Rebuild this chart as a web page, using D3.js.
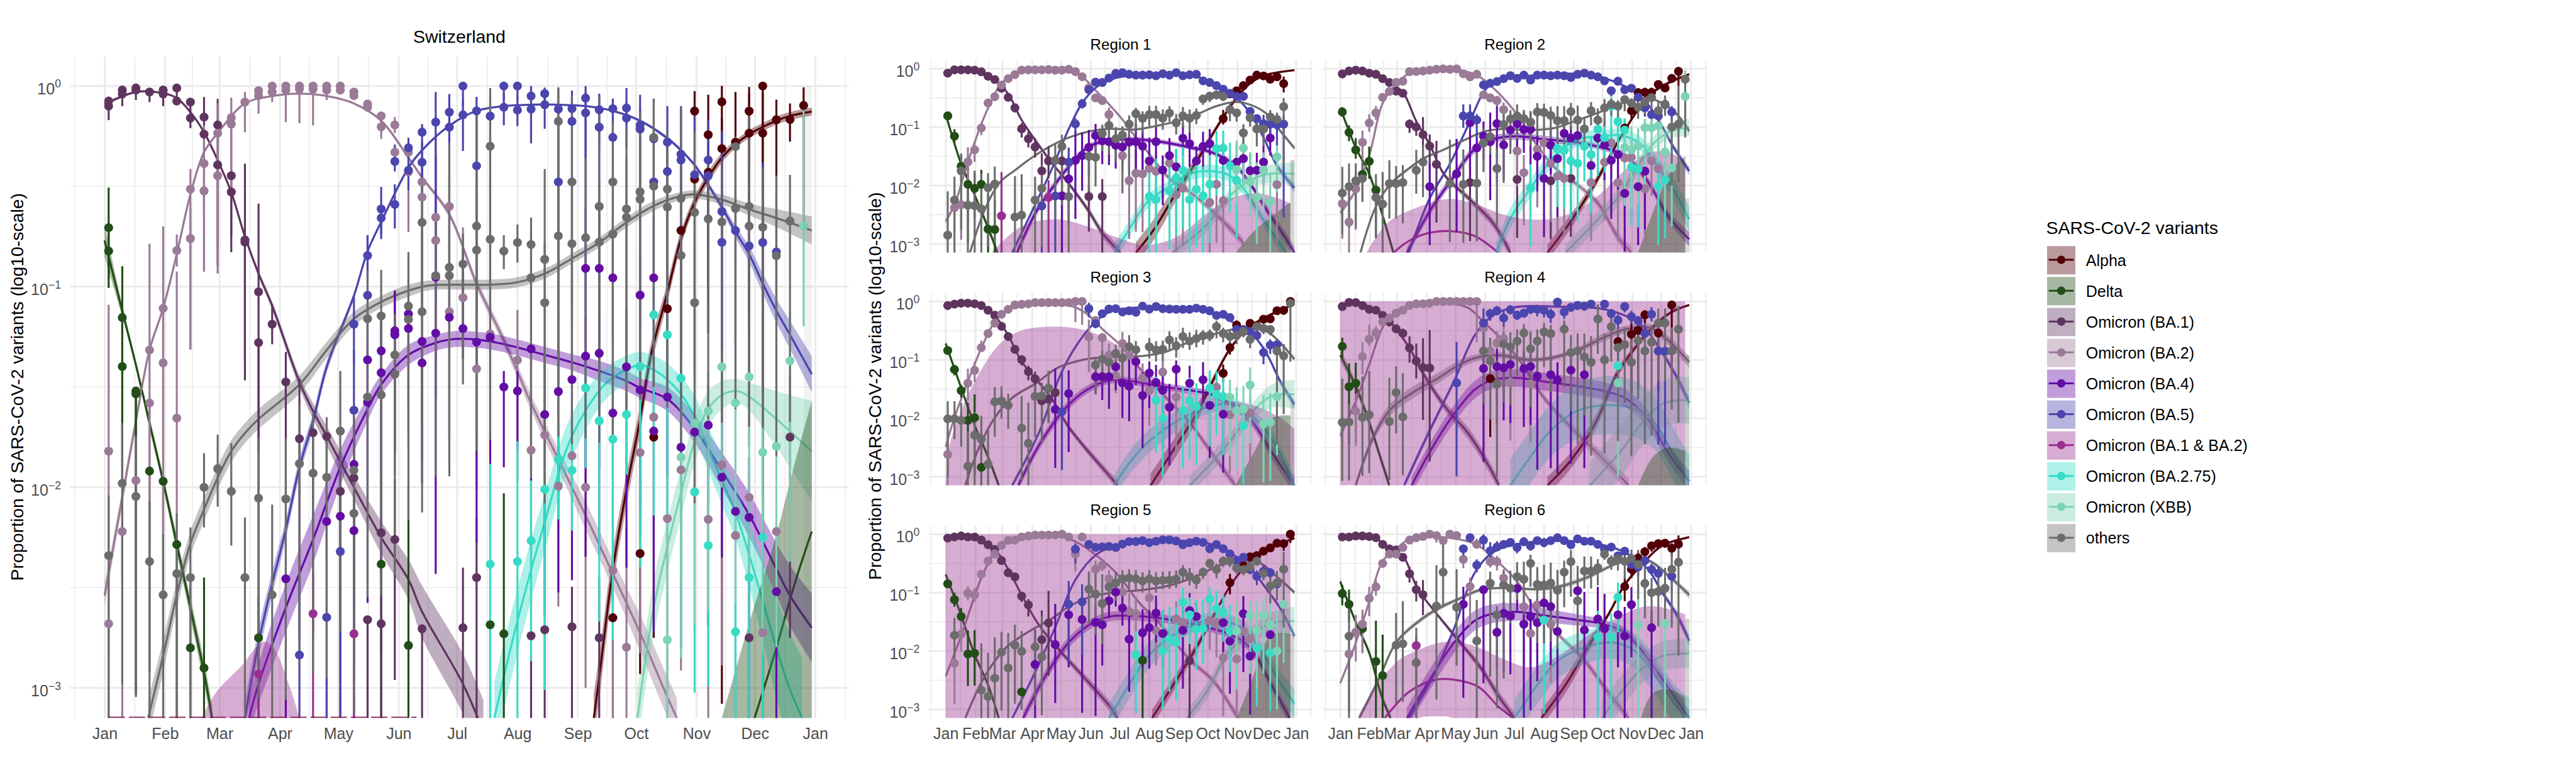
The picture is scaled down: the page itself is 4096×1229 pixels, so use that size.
<!DOCTYPE html>
<html><head><meta charset="utf-8">
<script src="https://cdnjs.cloudflare.com/ajax/libs/d3/7.8.5/d3.min.js"></script>
<style>html,body{margin:0;padding:0;background:#fff}svg{display:block}text{font-family:"Liberation Sans",Arimo,Helvetica,Arial,sans-serif}</style>
</head><body><div id="chart"></div>
<script>
// All proportions are stored as 100*log10(proportion). t / w = weeks after 3 Jan 2022.
const seriesKeys=["alpha","delta","ba1","ba2","ba4","ba5","ba12","ba275","xbb","others"];
const seriesNames=["Alpha","Delta","Omicron (BA.1)","Omicron (BA.2)","Omicron (BA.4)","Omicron (BA.5)","Omicron (BA.1 & BA.2)","Omicron (BA.2.75)","Omicron (XBB)","others"];
const seriesColors=["#510007","#224D17","#5F3560","#9A7A97","#640DA5","#4B45AE","#992F90","#36DCC5","#7CD3B5","#6C6C6C"];
const monthLabels=["Jan","Feb","Mar","Apr","May","Jun","Jul","Aug","Sep","Oct","Nov","Dec","Jan"];
const decadeTicks=[0,-1,-2,-3];

// ---------- Switzerland: points [week, value, up, down]
const CH_alpha=[37,-265,20,50, 39,-233,40,60, 40,-175,40,100, 41,-111,0,0, 42,-72,32,100, 43,-12.5,10,25, 43,-46.4,5,100, 44,-24.3,20,60, 44,-43,3,80, 45,-7.9,8,300, 45,-31.2,15,100, 46,-28,25,100, 47,-12.5,12,100, 47,-23.5,20,100, 48,0,0,300, 48,-23.5,20,300, 49,-16.8,10,100, 50,-16.7,8,11, 51,-9.7,9,60];
const CH_delta=[0,-70.6,20,30, 0,-82.2,12,14, 1,-115.4,0,130, 1,-139.8,50,60, 2,-152,0,150, 2,-153.4,0,150, 3,-191.9,0,100, 4,-197,0,100, 5,-228.5,0,100, 6,-280,35,40, 7,-290,45,60, 11,-275,20,40, 20,-238.3,0,100, 22,-278.8,80,50, 28,-268.5,0,50, 29,-273,70,50];
const CH_ba1=[0,-7.5,1,2, 0,-10,3,7, 1,-2,0,1, 1,-4,2,6, 2,-1,0,0, 2,-2,1,5, 3,-3,1,5, 4,-2,0,0, 4,-4,2,6, 5,-1,0,0, 5,-7.5,6,0, 6,-8,0,2, 6,-16,10,5, 7,-15.5,10,12, 7,-24,0,40, 8,-19.4,13,70, 8,-39.3,0,40, 9,-44.7,0,30, 9,-52.8,0,30, 10,-76.7,38,70, 10,-77.8,0,60, 11,-102.6,44,80, 11,-127.9,0,160, 12,-118.7,10,10, 13,-147.5,15,100, 14,-175.8,30,100, 15,-172.8,0,100, 16,-174.6,0,60, 17,-202,20,60, 18,-195.3,20,50, 19,-266,0,100, 20,-222.7,30,60, 20,-268,0,100, 21,-226,30,70, 23,-270.5,0,100, 26,-270,30,100, 27,-245,30,100, 31,-274,20,100, 32,-271,0,100, 34,-269.5,20,100, 36,-275,30,100, 47,-275,0,50, 50,-175,30,100];
const CH_ba2=[0,-182,73,100, 0,-268,0,100, 1,-222,0,100, 2,-196.6,20,100, 3,-131.6,53,100, 3,-158,0,120, 4,-110.8,0,130, 4,-138,68,100, 5,-82,8,8, 5,-165.5,73,100, 6,-51.4,10,80, 6,-76,15,55, 7,-38.6,19,54, 7,-52.3,5,40, 8,-23.5,15,70, 8,-44.7,0,43, 9,-15.8,10,36, 9,-19,6,30, 10,-8,5,15, 11,-2.3,0,3, 11,-4.8,2,9, 12,0,0,4, 12,-3,2,5, 13,0,0,2, 13,-2,0,16, 14,0,0,2, 14,-1.6,0,17, 15,0,0,1, 15,-1.6,0,18, 16,0,0,2, 16,-2,0,5, 17,0,0,1, 17,-2,0,2, 18,-3,1,1, 18,-4.8,0,2, 19,-9,0,2, 19,-10.6,1,1, 20,-14.9,2,3, 20,-20.4,3,6, 21,-19.4,4,4, 21,-33,4,3, 22,-33,4,5, 22,-42.8,5,30, 23,-47.8,8,60, 23,-55.4,10,60, 24,-65.4,40,60, 24,-77,20,60, 25,-60,15,60, 25,-112.5,40,60, 26,-105.5,35,30, 27,-141,40,60, 28,-123.6,20,60, 30,-136.6,25,60, 31,-181.5,30,60, 32,-174,40,100, 33,-199.4,30,60, 34,-184.3,20,60, 35,-200,30,100, 37,-241.4,40,100, 38,-279.7,60,100, 39,-182.7,0,100, 40,-165,10,100, 41,-215.6,60,100, 42,-191.3,30,100, 44,-216,40,100, 45,-188.8,0,100, 46,-224,30,100, 47,-205,10,100, 48,-272.5,40,100, 49,-222,10,100];
const CH_ba4=[13,-245.6,0,100, 16,-217,40,100, 17,-214.4,30,100, 18,-188.6,20,100, 18,-221.6,30,100, 19,-157.6,30,100, 19,-136.5,20,60, 20,-132,15,60, 20,-142.9,30,100, 21,-122,20,60, 21,-124,22,60, 22,-113.6,0,60, 22,-120.8,0,60, 23,-127.3,0,60, 23,-138,0,60, 24,-95.3,60,60, 24,-123.2,0,120, 25,-115.3,0,60, 26,-120.9,40,15, 27,-127.6,0,100, 28,-125.2,0,100, 29,-150,8,40, 30,-152,10,30, 31,-131,0,100, 32,-163.7,30,100, 33,-152.3,40,100, 34,-146.3,50,100, 35,-90.9,30,100, 35,-134.6,20,100, 36,-90.9,30,100, 36,-133.2,20,100, 37,-95.6,30,100, 37,-163,20,100, 38,-140,30,100, 39,-104.2,20,120, 39,-151.5,20,60, 40,-95.6,30,60, 40,-172,30,100, 41,-155,30,40, 42,-180,30,100, 43,-172.5,20,100, 44,-169,20,100, 45,-195,40,40, 46,-212,40,100, 47,-215,30,100, 49,-252,30,100];
const CH_ba5=[14,-283.6,40,100, 16,-264.8,60,100, 17,-232,30,100, 18,-118.7,14,20, 18,-161.6,30,100, 19,-84.5,10,10, 19,-104.3,30,100, 20,-61.3,11,15, 20,-65.8,6,8, 21,-37.6,8,5, 21,-59,10,12, 22,-30.8,5,6, 22,-42,5,10, 23,-23,4,30, 23,-38,10,10, 24,-18,15,90, 25,-13,9,100, 25,-20.5,16,7, 26,0,0,10, 26,-14.4,7,18, 27,-12.4,7,100, 27,-39.8,25,100, 28,-15,9,100, 29,0,0,7, 29,-10.6,7,9, 30,0,0,7, 30,-12,7,8, 31,-5,5,5, 31,-11.5,7,17, 32,-3.8,3,6, 32,-9.3,7,12, 33,-11.5,10,100, 33,-47.8,30,100, 34,-11.3,9,100, 34,-17.6,12,100, 35,-6,6,30, 35,-13.4,10,100, 36,-11.8,8,20, 36,-20.5,16,100, 37,-11.3,5,15, 37,-25.6,17,100, 38,-11,10,8, 38,-16,8,15, 39,-19.4,15,30, 39,-21.5,10,100, 40,-26.3,20,100, 40,-47.8,20,100, 41,-28,18,100, 41,-42.6,15,100, 42,-34,24,100, 42,-36.9,25,100, 43,-44.2,30,100, 44,-36.9,20,70, 44,-44.7,15,55, 45,-62.5,40,100, 45,-77.9,40,100, 46,-72,20,100, 47,-79.7,20,100, 48,-78,40,100, 49,-82.7,30,100];
const CH_ba12=[11,-293,20,100, 15,-263,20,100, 18,-273,30,100];
const CH_ba275=[28,-238.3,50,100, 30,-237,60,100, 31,-226.6,30,60, 32,-201,30,100, 33,-186,20,30, 34,-191.5,30,30, 35,-150.5,12,40, 36,-166.9,30,100, 37,-176,40,100, 38,-163.7,18,30, 39,-139.8,0,100, 40,-114,20,100, 41,-124,25,100, 42,-145.6,20,100, 43,-202.3,20,100, 44,-229,20,70, 46,-272,40,100, 47,-245,20,100, 48,-225,20,100];
const CH_xbb=[41,-276,60,100, 42,-185,30,100, 43,-168,20,100, 44,-162,20,100, 45,-140,8,60, 46,-158,12,100, 47,-145,10,100, 48,-182.6,30,100, 49,-179.6,30,100, 50,-137,25,100, 51,-69.8,60,50];
const CH_others=[0,-234,30,100, 1,-198,30,100, 2,-204.5,30,100, 3,-237,30,100, 4,-253.6,30,100, 5,-243,30,100, 6,-245,25,70, 7,-200,17,20, 8,-190.7,17,19, 9,-202,24,27, 10,-245,30,100, 11,-205.4,30,100, 12,-253.6,45,100, 13,-205.8,30,100, 14,-188.2,30,100, 15,-193,30,100, 16,-195,30,100, 17,-172,30,100, 18,-191.5,30,100, 18,-213,30,100, 19,-116,24,30, 19,-155,40,100, 20,-114.6,23,100, 20,-153.9,40,100, 21,-134,16,60, 21,-143.6,30,100, 22,-109.7,27,50, 22,-116.3,30,100, 23,-68,20,100, 23,-112.5,40,100, 24,-94.5,30,100, 25,-90.4,62,100, 25,-94.5,30,100, 26,-88.7,15,60, 27,-69.8,56,100, 27,-81.8,30,100, 28,-30,29,100, 28,-76.4,30,100, 29,-82.3,8,9, 30,-78,9,10, 31,-79,9,100, 31,-95.6,30,100, 32,-86.4,45,100, 32,-108,30,100, 33,-17.6,17,100, 33,-74.7,30,100, 34,-47.8,43,100, 34,-78.6,30,100, 35,-75.6,40,100, 36,-60,55,100, 36,-77.8,30,100, 37,-47.8,30,100, 37,-73.8,30,100, 38,-61.3,40,100, 38,-65.4,30,100, 39,-52.7,40,100, 39,-56.4,30,100, 40,-25.6,19,100, 40,-49.9,30,100, 41,-51.4,30,100, 41,-60.3,30,100, 42,-56,45,100, 42,-84.5,30,100, 43,-63,40,100, 43,-108,30,100, 44,-66.2,30,100, 45,-67.8,30,100, 46,-30.2,5,58, 46,-61,30,100, 47,-60,50,100, 47,-69.8,30,100, 48,-70.4,30,100, 49,-84.6,40,100, 50,-67.3,23,100];
// Switzerland fits: [t, value, half-width]
const CH_alpha_fit=[35.6,-315,12,36,-294.7,11,37,-241,9,38,-201,8,39,-166,7,39.8,-134,6,41,-103,5,42,-76,4,43,-58,3,44,-45.6,3,45,-35.7,2.5,46,-29,2,47,-24,2,48,-20.4,2,49,-17.3,2,50,-14.9,2,51.6,-12.7,2];
const CH_delta_fit=[-.3,-77,8,1,-112,3,2,-139,2,3,-168,3,4,-197,3,5,-228.5,4,6,-260,5,7,-292.3,6,7.6,-315,6,47.4,-315,0,49,-280,0,50.3,-249,0,51.6,-222,0];
const CH_ba1_fit=[-.3,-9,1,2,-3,.5,4,-3.6,.5,5,-6,.5,6,-13,.5,7,-23,.5,8,-37,.5,9,-53,.7,10,-75,1,11,-93.5,1.5,12,-109.5,2,14,-147.5,3,15,-162,4,16,-174.5,5,18,-200,6,20,-225,8,22,-246,10,23,-262,13,26,-298,15,27.5,-322,16];
const CH_ba2_fit=[-.3,-254,6,1,-205,4,2,-167,3,3,-131.6,2,4,-110.7,1,5,-83.7,1,6,-54,.7,7,-33,.5,8,-23.5,.5,10,-8.7,.3,12,-5,.3,14,-3.8,.3,16,-5,.3,18,-8.7,.5,20,-17.3,.7,22,-35.7,1,23,-45.6,1,25,-64,1.5,27,-98.4,2.5,29,-126.7,3,31,-158,4,33,-186,5,35,-214,7,37,-243,7,39,-272.6,9,41,-304.5,10,41.7,-315,10];
const CH_ba4_fit=[10.3,-315,8,11,-298,10,13,-260,12,15,-226,12,17,-190,9,19,-161,6,20,-148.8,5,22,-134,5,24,-128,4,25,-126.4,4,26,-126,4,28,-127.3,4,30,-130.3,4,32,-134,4,34,-137.7,4,36,-142,5,38,-147,5,39,-150.5,5,41,-156,6,43,-170.8,7,45,-191.7,9,47,-213.7,11,49,-240.7,13,50,-254,15,51.6,-270,17];
const CH_ba5_fit=[10,-315,8,11,-277.5,7,12,-248,6,13,-221,5,14,-190,4.5,15,-167,4,16,-140,3,18,-104.5,1.5,19,-82.4,1,20,-67.7,1,22,-40.7,1,23,-32,.7,25,-19.8,.4,27,-12.4,.3,29,-10,.3,31,-9.3,.3,33,-9.3,.3,35,-10,.3,37,-12.4,.4,39,-17.3,.7,41,-26,1,42,-32,1,43,-39.4,1,44,-49.3,1.5,45,-60.3,2,46,-72.6,3,47,-83.8,4,48,-98.4,5,49,-112,6,50,-124,7,51.6,-143.6,9];
const CH_ba12_fit=[];
const CH_ba275_fit=[28.3,-315,18,30,-266.5,16,32,-217.4,14,34,-174.5,11,36.4,-148.8,8,38,-141.4,7,39,-139,6.5,40,-141.4,7,41,-146.3,8,42,-153.6,9,43,-164.6,10,44,-180.6,11,45,-196.6,12,46,-212.6,13,47,-233.5,16,48,-256.7,20,49,-280,25,50,-300.9,28,50.9,-315,30];
const CH_xbb_fit=[38.8,-315,14,40,-260,14,41,-229.5,13,42,-202.7,12,43,-177,11,44,-161,9,45,-154,7,46.1,-152,6,47,-154.8,7,49,-166,14,51.6,-182,25];
const CH_others_fit=[2.9,-315,9,4,-284,8,5,-253.6,7,6,-228,6,7,-211,6,8,-195.3,5.5,9,-182,5.5,10,-173,5,11,-166,5,14,-148.8,4.5,16,-131.6,4,18,-116,3.5,20,-107.6,3,22,-102,3,23.5,-99.4,2.5,26,-99,2.5,28,-99,2.5,30,-97.8,2.5,32,-93.5,2.5,34,-86,2.5,36,-78,2.5,38,-68,2.5,40,-59.7,2.5,42,-54.8,2,43,-54,2,45,-56.6,2.5,47,-61.5,3,49,-65.8,4.5,51.6,-72,7];
// ribbons without a visible line: [t, upper, lower]
const CH_rib_ba12=[6.8,-315,-400,7.9,-302,-400,9.8,-288.6,-400,11.3,-277,-400,12,-279,-400,13.3,-299.6,-400,14,-315,-400];
const CH_rib_delta=[45,-315,-400,47,-267.7,-400,49,-223.6,-400,50.2,-191.7,-400,51.6,-157,-400];
const CH_rib_edge=[51,0,-400,51.6,0,-400];

// ---------- Region 1
const R1_alpha=[41,-85.5,15,10,42,-43,0,0,43,-37.7,5,5,44,-29,3,3,45,-19.4,3,3,46,-11,2,2,47,-12.4,2,2,48,-18,3,3,49,-13.8,3,3,50,-25.6,12,15];
const R1_delta=[0,-80.7,5,5,1,-115.6,12,12,2,-167,20,30,3,-198,40,100,4,-205,25,50,5,-198,25,40,6,-274.5,60,100,7,-275.4,50,100];
const R1_ba1=[0,-7.6,0,0,1,-2,0,0,2,-2,0,0,3,-2,0,0,4,-2.5,0,0,5,-5.3,0,0,6,-13,0,0,7,-18.6,0,0,8,-33.5,0,0,9,-49,2,2,10,-67,5,8,11,-103,10,15,12,-120,12,15,13,-134,15,18,14,-175,30,40,15,-158,25,30,17,-158,30,100,21,-219,20,60,23,-219,30,100];
const R1_ba2=[1,-238,30,40,2,-233,30,60,3,-159.5,25,100,4,-139,15,20,5,-101.5,10,12,6,-58.8,3,3,7,-48,2,2,8,-28,2,2,9,-17,0,0,10,-10,0,0,11,-2.5,0,0,12,-2,0,0,13,-2,0,0,14,-2,0,0,15,-1.5,0,0,16,-2.5,0,0,17,-2.5,0,0,18,-1,0,0,19,-5,0,0,20,-13.8,0,0,21,-33,3,3,22,-50,5,5,23,-54.6,5,5,24,-78.5,12,15,26,-149,20,30,27,-191.6,40,100,28,-179,40,100,29,-180,40,100,30,-170.7,30,100,31,-175.5,30,100,33,-161.5,30,100,34,-216,50,100,35,-204.5,50,100,39,-229,50,100,40,-198,40,100,41,-226,40,100,49,-198.6,30,100];
const R1_ba4=[17,-217.7,60,100,18,-188.7,30,80,19,-157,50,100,20,-148.8,40,60,21,-134.7,30,50,22,-114.5,20,40,23,-123.5,25,40,24,-125,25,40,25,-131,25,40,26,-134,25,30,27,-125.7,30,50,28,-125,30,50,29,-132.8,30,50,30,-158,40,60,31,-125,25,60,32,-173.6,25,60,33,-148.8,30,50,34,-168,30,60,35,-119,25,30,36,-128.5,20,40,37,-158,25,40,38,-133,25,40,39,-128.5,25,40,41,-157,30,50,43,-160,30,60,44,-153.9,30,40,45,-174.7,30,40,46,-174,30,50,47,-160,30,40,48,-118.7,30,30];
const R1_ba5=[14,-235,40,100,16,-218,40,100,18,-160,25,100,19,-94.5,10,15,20,-60,8,8,21,-36,3,3,22,-23,3,3,23,-23.6,2,2,24,-16,2,2,25,-8,2,2,26,-6.8,2,2,27,-9.6,2,2,28,-11,2,2,29,-11,2,2,30,-10.4,2,2,31,-12,2,2,32,-8.7,2,2,33,-11,2,2,34,-6.8,2,2,35,-12,2,2,36,-10.4,2,2,37,-9.6,2,2,38,-20.8,2,2,39,-23.6,2,2,40,-29,2,2,41,-35,2,2,42,-42,3,3,43,-47.5,3,3,44,-47.5,3,3,45,-73,3,5,46,-85.5,5,10,47,-94,15,30,48,-95,15,30,49,-96,15,40,50,-95,15,160];
const R1_ba12=[8,-252,75,100,15,-220.5,30,100];
const R1_ba275=[30,-219,70,100,31,-224,70,100,33,-209,60,100,34,-186.8,50,100,35,-174,40,100,36,-224,50,100,37,-206.5,50,100,38,-217.7,50,100,39,-198,50,100,40,-137,30,80,41,-136,30,80,42,-166.5,40,80,43,-191,50,100];
const R1_xbb=[43,-172.7,50,60,44,-136,30,60,45,-193,50,60,46,-220.5,60,80,47,-173.6,30,70,48,-228,50,100,49,-151,20,60];
const R1_others=[0,-285,75,100,1,-224.8,40,100,2,-175,30,100,3,-233.8,40,100,4,-234.6,60,100,5,-240,60,100,6,-203.7,25,100,7,-197.5,30,100,10,-254,70,100,11,-250.6,70,100,13,-224.8,40,100,14,-205,40,100,16,-157,30,100,17,-133,20,100,18,-219,30,100,21,-150,20,60,22,-151.6,20,50,23,-110.8,15,30,24,-97.3,15,50,25,-120,20,40,26,-113.6,15,100,27,-95,15,100,28,-77,10,30,29,-85,12,25,30,-78.5,15,20,31,-78.5,15,20,32,-84.7,15,20,33,-76,12,15,34,-92.5,15,20,35,-80.7,15,20,36,-84.7,15,25,37,-80,12,15,38,-51.8,3,10,39,-47,3,10,40,-44.7,3,8,41,-47.5,3,8,42,-70,10,20,43,-75.7,5,15,44,-110,15,20,45,-84,10,15,46,-103,15,30,47,-103,15,30,48,-82.7,12,12,49,-87,12,15,50,-65,15,100];
const R1_alpha_fit=[28,-315,18,30.7,-275,18,33.8,-216,14,37.4,-151.6,8,40,-101,5,42.8,-53,4,45,-25,3,47.3,-11,2,51.6,-2.5,1];
const R1_delta_fit=[-.3,-78,3,2,-163,3,4,-216,4,6.5,-287,6,7.4,-315,6];
const R1_ba1_fit=[-.3,-7,1,3,-2,.5,5,-6,.5,7,-20,1,9,-43,1,11,-88,2,14,-138,3,15.4,-160,3,18,-196.6,4,21,-244,6,23,-281,8,25.7,-315,9];
const R1_ba2_fit=[-.3,-261,5,1,-233,4,3,-160,3,5,-95,2,6.5,-55,1,8,-25,1,10,-9,.5,12,-3,.5,15,-2,.5,18,-5,.5,20,-14,1,22,-37,1,24,-61,1.5,26,-87,2,28,-118,2,30,-146,3,33,-188,5,36,-211,6,40,-250,7,44,-298,8];
const R1_ba4_fit=[10.3,-315,8,13.2,-244,8,15.9,-199,7,18,-168,6,20.8,-134.7,5,23.5,-123.5,4,27,-120.7,4,31.6,-125,4,36,-134.7,4,39.6,-144.6,4,42.8,-165.7,5,45,-196.6,6,47.3,-238.8,8,50.4,-292,10,51.6,-315,10];
const R1_ba5_fit=[9.6,-315,5,12.3,-250,4,15.4,-174,3,18.1,-101,2,20,-59,1,22.2,-31,1,24.8,-16.6,.5,27,-12,.5,36,-11,.5,39,-22,.5,41,-36,1,43,-50,1,45,-76,2,47,-118,3,49,-166,5,51.6,-204,8];
const R1_ba12_fit=[];
const R1_ba275_fit=[24.8,-315,16,27,-275,14,29.8,-227,12,33,-202,11,36,-180,11,39.2,-175.5,11,41.9,-182.5,11,44,-205,11,46.8,-255.7,12,50.4,-315,14];
const R1_xbb_fit=[33.4,-315,14,38.3,-270,13,41.9,-219,11,44.6,-193.8,12,47.3,-181,15,51.6,-180,20];
const R1_others_fit=[3.3,-315,3,5.6,-239,3,7.8,-194,2,10,-174,2,12.3,-154,1.5,15.4,-132,1.5,18,-118,1,21.2,-107,1,24,-103,1,28,-104,1,31,-98,1,33.8,-91,1,37,-78.5,1,40,-64,1,42.8,-57,1,45,-61.6,1,47.3,-75.7,2,49.5,-106.6,3,51.6,-136,4];
const R1_rib_ba12=[6.5,-315,-400,11,-270,-400,16.3,-258,-400,20.8,-270,-400,25.3,-289.5,-400,29.3,-302,-400,33.8,-289.5,-400,38.3,-250,-400,41.4,-225,-400,44,-216,-400,46.4,-213.5,-400,50.4,-227.6,-400,51,-232,-400];
const R1_rib_delta=[42.9,-315,-400,45.5,-279,-400,48,-255,-400,51,-228,-400];
const R1_rib_edge=[51,-156,-400,51.6,-156,-400];

// ---------- Region 2
const R2_alpha=[42,-101.5,15,20,43,-72,10,15,44,-41,8,8,45,-40.5,8,8,46,-40.5,8,8,47,-27,5,8,48,-33,6,6,49,-16.6,5,8,50,-4.5,4,25];
const R2_delta=[0,-74,8,8,1,-109,12,15,2,-139,20,15,3,-181,20,40,4,-158.6,25,30,5,-208,12,80];
const R2_ba1=[0,-9,0,0,1,-4,0,0,2,-2.5,0,0,3,-4,0,0,4,-7.6,0,0,5,-9.6,0,0,6,-17,0,0,7,-23.6,0,0,8,-38.5,0,0,9,-42,3,3,10,-94.8,8,15,11,-100,10,15,12,-112.8,30,40,13,-132.5,20,40,14,-163.7,40,100,19,-195,40,100,26,-189.6,40,100,31,-192,40,100,34,-188,40,100];
const R2_ba2=[0,-231,30,60,1,-262.7,60,100,2,-205.6,30,70,3,-126,20,30,4,-93,15,15,5,-75.7,12,12,6,-49,3,3,7,-39,3,3,8,-23.6,0,0,9,-21.4,0,0,10,-5,0,0,11,-4.8,0,0,12,-4,0,0,13,-2.5,0,0,14,-1,0,0,15,-.3,0,0,16,-1,0,0,17,-.3,0,0,18,-8.7,0,0,19,-14,0,0,20,-9.6,0,0,21,-44.7,5,5,22,-50,5,5,23,-54.6,8,10,24,-70,12,15,26,-141,30,60,27,-178,30,90,28,-91,15,30,29,-137.6,30,100,30,-127,15,30,31,-162,30,100,32,-184,40,100,33,-188,40,100,37,-195,40,100,39,-160,30,100,40,-127,25,60,41,-195,50,100,42,-153,30,100,43,-151.6,30,100,45,-205.6,30,100,46,-157.8,30,60,47,-171,40,100,48,-143,30,60];
const R2_ba4=[13,-202,40,100,17,-180,60,100,19,-92.5,25,100,20,-135.6,25,100,21,-115.6,25,40,22,-125,50,100,23,-94,30,100,24,-130.5,30,60,25,-105,30,30,26,-94.5,20,40,27,-104,30,40,28,-104,30,60,29,-150,35,60,30,-188,40,100,31,-131,30,50,32,-154,30,100,33,-110.8,30,60,34,-118.7,20,60,35,-114.5,20,60,37,-165.7,40,50,38,-118.7,30,60,39,-130.5,40,60,40,-157,30,100,41,-147,30,60,42,-213.5,30,100,44,-202,30,100,45,-175.5,30,100];
const R2_ba5=[18,-81,20,20,19,-81,20,25,20,-87.8,10,30,21,-27.8,3,3,22,-25,3,3,23,-22,3,3,24,-17,2,2,25,-12,2,2,26,-16.6,2,3,27,-11,2,2,28,-19.4,2,3,29,-11,2,2,30,-11,2,2,31,-12,2,2,32,-11,2,2,33,-12,2,2,34,-15,2,2,35,-9.6,2,2,36,-7.6,2,2,37,-11,2,2,38,-13.8,2,2,39,-20.8,2,2,40,-37.7,5,10,41,-21.4,2,2,42,-36,5,5,43,-33.5,5,5,44,-49,5,8,45,-67,8,15,46,-78.5,10,20,47,-81,10,20,48,-61.6,12,15,49,-74,10,15];
const R2_ba12=[];
const R2_ba275=[28,-204.5,40,100,32,-137,30,100,33,-140,30,100,34,-158,40,100,35,-162,40,100,36,-133,30,60,37,-147,30,100,38,-103.8,20,80,39,-117.9,20,60,40,-64.4,15,100,41,-90.6,20,60,42,-105,20,100,43,-168.5,30,100,44,-172,30,100,47,-201.7,50,100,48,-190.4,40,100];
const R2_xbb=[42,-134.7,40,100,43,-139,40,100,44,-132,30,100,45,-101,15,100,46,-101,20,60,47,-98,25,60,48,-142.6,30,100,49,-170,40,100,51,-47.5,45,60];
const R2_others=[0,-213,45,70,1,-202,40,70,2,-192,30,80,3,-188,30,40,5,-220.5,40,70,6,-231.8,55,100,7,-196.6,40,60,8,-196.6,30,60,9,-195,30,70,11,-174,35,40,12,-160,30,60,16,-196.6,75,100,18,-198,60,100,20,-196,60,100,21,-127,25,50,22,-116.5,10,30,23,-171,35,100,24,-95.4,20,100,25,-86,15,60,26,-81,20,40,27,-85.5,15,30,28,-92.5,20,40,29,-74,15,40,30,-74.8,15,40,31,-80,15,40,32,-89,25,40,33,-89,25,40,34,-73.4,15,30,35,-88,25,40,36,-103,20,30,37,-72,15,25,38,-88,20,40,39,-67,15,30,40,-61,10,20,41,-64,10,30,42,-53,5,20,43,-59,8,20,44,-65.8,10,20,45,-57,8,20,46,-49.5,8,20,47,-72,15,20,48,-60.8,15,20,49,-100,15,100,50,-95,65,100,51,-18,5,100];
const R2_alpha_fit=[30.5,-315,14,34,-261,12,37.7,-194,8,40.8,-129,5,43.5,-78.5,3,46,-42,3,48.9,-22,3,51.6,-9.6,2];
const R2_delta_fit=[-.3,-67,3,2,-135,3,4,-180,4,5.8,-244,6,7.6,-315,7];
const R2_ba1_fit=[-.3,-8,1,3,-3,.5,5,-9,.5,7,-23,1,9,-40,1,11,-90,2,13,-130,3,15.2,-182,4,18.8,-222,6,22.4,-264,8,25,-315,10];
const R2_ba2_fit=[-.3,-247,5,2,-208,4,4,-149,3,6,-59,1.5,8,-26,1,10,-8,.5,13,-2.5,.5,17,-2,.5,20,-11,1,23,-39,1,26,-78.5,2,29,-132,3,32,-174,4,35,-199,5,38,-230,7,41,-289,9,43,-315,10];
const R2_ba4_fit=[9.6,-315,8,13,-244,8,16,-194,8,19.7,-137.6,7,22.4,-120.7,6,26,-115.6,6,30,-120.7,6,34.5,-126,5,39,-136,5,42,-149,6,45.3,-191,7,48.5,-253,9,51.6,-292,12];
const R2_ba5_fit=[9.9,-315,6,13,-222,5,16,-163,3,18.8,-95,2,21.5,-33,1,24,-18,.5,27.8,-12,.5,36.8,-9.6,.5,40.4,-22,1,43,-36,1,45.3,-59,2,47,-87,3,49.3,-135,5,51.6,-175,7];
const R2_ba12_fit=[7.6,-315,0,9.9,-295,0,12.6,-282,0,16,-278,0,19.7,-286.6,0,22.9,-312,0,23.2,-315,0];
const R2_ba275_fit=[22.9,-315,18,25,-256,18,27.8,-208,16,31.4,-152,14,35,-121,12,38.6,-116,11,41.3,-114,11,44.4,-129,12,47,-168.5,14,49.3,-208,18,51.6,-258,22];
const R2_xbb_fit=[33.2,-315,14,36.8,-272.6,14,41.3,-216,14,44,-165.7,13,46.2,-129,12,48.9,-106.6,12,51.6,-101,15];
const R2_others_fit=[2.7,-315,3,5,-236,3,7.2,-197,3,9.9,-171,3,12,-154,2,14.8,-140,2,18,-123,2,21,-108,1.5,24,-103,1,27.8,-105,1,31.4,-102,1,35,-88,1,38.6,-73,1,41.7,-59,1,45.3,-50,1,48,-61.6,2,49.8,-78.5,3,51.6,-106.6,5];
const R2_rib_ba12=[3.6,-315,-400,6.7,-264,-400,10.8,-239,-400,16,-223,-400,20,-233,-400,24,-250,-400,27.8,-258,-400,31.4,-256,-400,35,-242,-400,39,-208,-400,42,-174,-400,45.7,-143,-400,49.3,-147,-400,51,-166,-400];
const R2_rib_delta=[44,-315,-400,47,-222,-400,48.9,-174,-400,51,-150,-400];
const R2_rib_edge=[51,-222,-400,51.6,-222,-400];

// ---------- Region 3
const R3_alpha=[41,-123,15,15,42,-79,10,12,43,-40.5,8,8,44,-51.5,6,6,45,-37.4,5,5,46,-41.6,4,4,47,-30.4,4,4,48,-29.8,4,4,49,-15.8,3,6,50,-15,3,8,51,0,0,5];
const R3_delta=[0,-84,5,5,1,-116.5,8,10,2,-152.7,10,12,3,-203.6,30,100,4,-199,40,100,5,-284,60,100];
const R3_ba1=[0,-7,0,0,1,-4.5,0,0,2,-3,0,0,3,-3,0,0,4,-4,0,0,5,-7,0,0,6,-15,0,0,7,-23.6,0,0,8,-42.5,3,3,9,-60,3,5,10,-82,3,3,11,-99.6,5,10,12,-120,10,15,13,-132.5,12,25,14,-170,30,60,15,-167,30,40,16,-156,8,8];
const R3_ba2=[0,-262,40,100,3,-140,25,30,4,-118,15,20,5,-79,12,5,6,-55,5,5,7,-37,3,3,8,-22,2,2,9,-13.5,0,0,10,-6,0,0,11,-5,0,0,12,-4,0,0,13,-2,0,0,14,-2,0,0,15,-2,0,0,16,-2,0,0,17,-2,0,0,18,-2,0,0,19,0,0,35,20,0,0,40,21,-60.8,30,60,22,-32.6,5,8,23,-62,8,60,24,-92,20,60,25,-127,25,30,26,-72,20,30,27,-92,20,30,29,-131,25,50,30,-152.7,30,60,32,-121,20,30,34,-164,30,100,40,-146.6,20,60,42,-194,30,100,45,-191,30,100];
const R3_ba4=[16,-185,70,100,18,-157.8,40,100,22,-128.8,20,30,23,-128.8,20,40,24,-128.8,20,55,25,-112,10,40,26,-139.5,40,60,27,-145,60,60,28,-103,25,40,29,-161,40,90,30,-122.6,20,60,31,-138.7,30,30,32,-152,30,100,33,-181,40,100,34,-116,15,30,36,-140,30,40,38,-134,30,40,39,-178,40,90,41,-193,40,100];
const R3_ba5=[17,-188.7,70,100,21,-12.4,10,15,22,-38,5,8,23,-21,2,2,24,-13,2,2,25,-12.4,2,2,26,-18,2,2,27,-16,2,2,28,-18.6,2,2,29,-8,2,2,30,-13,2,2,31,-8.7,2,2,32,-12.4,2,2,33,-13,2,2,34,-13.5,2,2,35,-13.5,2,2,36,-13.5,2,2,37,-11.5,2,2,38,-13.5,2,2,39,-16,2,2,40,-24,2,2,41,-22,2,2,42,-27.6,5,5,43,-48,5,5,44,-48,5,5,45,-51.5,5,8,46,-58,8,8,47,-87.5,10,20,48,-74.8,10,15,49,-74,10,10];
const R3_ba12=[];
const R3_ba275=[31,-169,40,90,32,-200,40,100,35,-186.5,40,100,36,-170.5,40,100,37,-180,40,100,39,-148,30,100,40,-159,40,70,41,-163,40,100,44,-213,30,100];
const R3_xbb=[42,-164,30,100,43,-187,40,100,44,-184.5,40,100,45,-143,30,100,47,-210,50,100,48,-207,50,100,49,-163,30,100];
const R3_others=[0,-201,30,100,1,-200.8,30,35,2,-203.6,30,45,3,-282,60,100,4,-229,40,100,5,-235.7,40,100,6,-278.8,60,100,7,-171.9,25,60,8,-170.5,25,30,9,-178,20,40,11,-217,55,90,12,-243,70,100,13,-162.6,20,70,14,-161.5,20,80,15,-148.5,30,60,22,-108.6,10,50,23,-98.7,15,40,24,-104,20,30,25,-89,15,40,26,-96.8,20,40,27,-77.6,20,20,28,-82.7,15,20,30,-77.6,15,20,31,-83,15,20,32,-82,15,20,33,-66,15,20,34,-76,15,20,35,-60,15,20,36,-67.8,15,15,37,-63.6,15,15,38,-59,10,15,39,-58,10,10,40,-43,10,20,41,-55,10,15,42,-60,10,20,43,-58,10,15,44,-51.5,10,10,45,-65,10,15,46,-43,5,10,47,-46,5,10,48,-48,5,10,49,-84.7,20,160,50,-93,20,100,51,-3,3,100];
const R3_alpha_fit=[30.2,-315,20,33.4,-257.7,18,37,-193,14,39.2,-142,8,41.9,-83,4,44.6,-46.7,3,47.3,-27,3,51.6,-4.5,2];
const R3_delta_fit=[-.3,-72,5,2,-148,3,4,-212,4,6,-266,6,7.6,-315,7];
const R3_ba1_fit=[-.3,-8,1,3,-3,.5,5,-7,.5,7,-24,1,9,-58,1,11,-103,2,13,-131,3,15.4,-165,4,18,-215,5,21,-258,6,23.5,-291,7,25.3,-315,8];
const R3_ba2_fit=[-.3,-249,5,1,-199,4,3,-137,3,5,-80,2,7,-35,1,9,-14,.5,12,-5,.5,16,-4,.5,19,-10,.5,21,-24,1,23,-47,1,25.7,-75,2,29.3,-125,3,32.5,-165,4,36,-207,5,39,-255,7,42.8,-315,9];
const R3_ba4_fit=[10.5,-315,8,13.6,-246,8,17.2,-187,8,20.4,-153.6,7,24,-135,6,27,-136,6,31.6,-145,6,36,-152,6,39.2,-159,6,41.9,-173,7,45,-201,9,48.2,-257.7,12,51.6,-315,14];
const R3_ba5_fit=[9.6,-315,5,13.6,-224,4,16.8,-125,3,19,-78,2,21.7,-38,1,24,-18.6,.5,27,-11.5,.5,36,-11.5,.5,40,-21,1,42.8,-38,1,45,-52,1.5,47.3,-86,3,49.5,-137,5,51.6,-176,8];
const R3_ba12_fit=[];
const R3_ba275_fit=[24.8,-315,18,27,-277,20,29.8,-241,20,33.4,-210,18,36,-193,15,39.2,-179,12,41.9,-176,12,45,-193,12,48.2,-235,14,51.6,-315,16];
const R3_xbb_fit=[36,-315,16,39.2,-277,16,42.3,-235,14,45,-193,14,48.2,-162,20,51.6,-159,25];
const R3_others_fit=[2.6,-315,4,4.7,-249,4,7,-199,3,9.6,-165,3,13.2,-139.5,2,16.3,-114,2,19.5,-101.5,1.5,22.6,-96,1,26.2,-94.5,1,29.3,-93,1,32.5,-86,1,36,-69,1,39,-58,1,42.3,-48,1,45.5,-42.5,1,48,-55,2,51.6,-98.7,4];
const R3_rib_ba12=[-.3,-315,-400,.2,-249,-400,2,-187,-400,4.7,-122.6,-400,7.8,-72,-400,11,-49.5,-400,15.9,-43,-400,19.5,-46.7,-400,22.6,-58,-400,26.2,-83,-400,29.8,-123,-400,33.8,-148,-400,40.5,-168,-400,45,-176,-400,49.5,-199,-400,51.6,-218,-400];
const R3_rib_delta=[42.8,-315,-400,46,-249,-400,48.2,-200,-400,51,-195,-400];
const R3_rib_edge=[51,-170,-400,51.6,-170,-400];

// ---------- Region 4
const R4_alpha=[22,-132,0,100,41,-68.6,20,100,43,-56,20,100,44,-49.5,20,100,45,-23,8,15,47,-54,20,100,49,-6,0,100];
const R4_delta=[0,-77,15,20,1,-146,40,100,2,-140,35,100];
const R4_ba1=[0,-8.7,0,0,1,-1.7,0,0,2,-2,0,0,3,-7,0,0,4,-13.5,0,0,5,-15,0,0,6,-24,0,0,7,-35,3,8,8,-46.7,5,8,9,-54.6,8,10,10,-79.6,20,25,11,-102,30,30,12,-113,50,90,13,-114,65,160];
const R4_ba2=[2,-188,30,60,3,-94.5,25,30,4,-64.4,25,12,5,-53.7,12,12,6,-35,10,3,7,-28.4,5,3,8,-20,0,0,9,-15,0,0,10,-6.8,0,0,11,-4,0,0,12,-4,0,0,13,-3,0,0,14,0,0,0,15,0,0,0,16,0,0,0,17,0,0,5,18,0,0,0,19,0,0,0,20,0,0,70,21,-46,10,60,22,-84.7,15,100,23,-71,20,100,24,-63.6,25,100,25,-138,40,100,28,-141,40,100];
const R4_ba4=[21,-114.8,30,160,23,-111.4,30,100,24,-113.6,30,90,25,-108,30,100,27,-114.8,30,100,28,-111.4,30,100,29,-128,35,160,31,-125.5,30,160,32,-134.5,30,160,34,-117.6,30,160,36,-125.5,30,160];
const R4_ba5=[17,-139.5,70,160,21,-37,25,50,22,-20.8,8,12,23,-15.8,8,8,24,-28.4,12,15,25,-14.3,8,8,26,-23.6,8,8,27,-20,8,8,28,-13.5,6,8,29,-13.5,8,12,30,-15,8,12,31,-22,10,15,32,-1,0,8,33,-18,6,12,34,-10,5,8,35,-6.8,5,8,36,-8,5,8,37,-4.5,4,8,39,-4.5,4,10,40,-20.8,8,15,41,-32,10,15,42,-8.7,6,10,43,-26,10,12,44,-33,8,12,45,-54.6,15,20,46,-22,12,12,47,-85,25,160,48,-85,30,160];
const R4_ba12=[];
const R4_ba275=[41,-110,20,60];
const R4_xbb=[41,-139.5,30,160];
const R4_others=[0,-207,75,100,1,-206.5,30,100,3,-198.6,70,100,4,-194,75,100,7,-205.6,75,100,8,-155.8,45,70,9,-197.7,75,100,21,-84.7,30,90,22,-102,40,100,23,-141.5,40,160,24,-72.9,20,100,25,-77.6,25,100,26,-67.8,20,60,27,-54,15,60,28,-81,30,100,29,-67.8,20,60,30,-52.3,15,60,31,-55,15,100,33,-47.5,15,100,34,-87.5,30,100,35,-84.7,30,160,36,-95,40,100,37,-104,45,160,38,-30,25,60,39,-100,45,160,40,-43,30,60,41,-79,30,160,42,-74,30,100,43,-104,40,160,44,-67,15,100,45,-84.7,30,160,46,-69.8,30,160,47,-37,25,100,48,-37,25,100,49,-84.7,40,100,50,-47.5,40,160];
const R4_alpha_fit=[30.5,-315,15,34,-272,14,37.7,-207,12,40.8,-125,8,43.5,-80,5,46.2,-44,4,48.9,-18.6,3,51.6,-6,1];
const R4_delta_fit=[-.3,-92,10,2,-145,8,4,-207,8,5.8,-272,8,7,-315,9];
const R4_ba1_fit=[-.3,-8,2,2,-2,1,5,-14,1,6,-21,1,8,-47,2,10,-80,4,12,-123,6,15.2,-179,8,18.8,-227,10,22,-286,10,23.3,-315,10];
const R4_ba2_fit=[-.3,-230,4,2.2,-165,4,4,-108,3,6.3,-38,2,8.5,-14,1,12,-3,1,16,-3,1,18.8,-11.5,1,21,-35,2,23.8,-66,3,26.5,-103,4,30,-165,6,34.5,-221,8,39,-272,10,42.6,-315,12];
const R4_ba4_fit=[10.3,-315,14,13,-258,15,16.1,-201,15,19.7,-151,15,22.4,-134,15,26,-131,15,30.5,-138,15,35,-145,15,39,-153.6,15,42,-165,15,45.3,-199,15,48.4,-258,15,51.6,-308,18];
const R4_ba5_fit=[9.2,-315,6,13,-221,6,16.6,-137,5,19.7,-58,4,22.4,-24,2,25.6,-10,2,32.3,-9,2,38,-11.5,2,42,-24,2,44.8,-44,3,47.5,-86,5,49.8,-131,7,51.6,-173,10];
const R4_ba12_fit=[];
const R4_ba275_fit=[25,-315,45,27.8,-269,45,31,-221,45,35,-187,48,40,-177.5,50,43.5,-184.5,48,46.6,-210,45,49.3,-263,45,51.6,-308,45];
const R4_xbb_fit=[36.8,-315,40,41.3,-258,45,44.4,-210,40,47.5,-176,40,50.2,-169,40,51.6,-170,40];
const R4_others_fit=[2,-315,6,4.5,-235,8,7.2,-184.5,10,10.8,-153.6,10,14.3,-131,9,17,-111,8,19.7,-97,6,23.3,-92,5,27.8,-100,4,31.4,-96,4,35,-83,5,39,-61,7,42,-48,6,45.7,-45,6,48.4,-66,8,51.6,-104,10];
const R4_rib_ba12=[-.3,0,-400,51,0,-400];
const R4_rib_delta=[44,-315,-400,46.2,-266,-400,48.4,-250,-400,51,-256,-400];
const R4_rib_edge=[51,-92,-400,51.6,-92,-400];

// ---------- Region 5
const R5_alpha=[42,-83,15,20,44,-53.8,0,0,45,-38.7,5,5,46,-36.6,4,4,47,-29,4,4,48,-23.5,4,4,49,-15.4,4,4,50,-16,5,12,51,0,0,15];
const R5_delta=[0,-85,5,5,1,-112,12,12,2,-141,15,12,3,-205,40,55,4,-204,40,55,11,-270,20,30,29,-216,30,100];
const R5_ba1=[0,-6.7,0,0,1,-4.7,0,0,2,-3,0,0,3,-4.7,0,0,4,-4.7,0,0,5,-10,0,0,6,-18,0,0,7,-26,2,2,8,-45,3,3,9,-66,5,5,10,-73,5,5,11,-106,5,10,12,-121,10,20,14,-180.5,50,90,15,-152,55,90,36,-216.6,60,100];
const R5_ba2=[1,-221,30,70,2,-171,30,30,3,-101,12,12,4,-104,12,12,5,-68.6,5,5,6,-46,3,3,7,-33.7,3,3,8,-19,2,2,9,-10.5,0,0,10,-10,0,0,11,-4.7,0,0,12,-3,0,0,13,-1.5,0,0,14,-1.5,0,0,15,-1.5,0,0,16,-1.5,0,0,17,0,0,0,18,-4.7,0,0,19,-34,8,30,20,-4.7,0,0,22,-60,15,30,23,-53,8,10,24,-76.5,15,30,26,-99,20,30,27,-132,30,60,28,-136,30,30,30,-109,30,100,31,-165,40,60,34,-144.8,30,40,35,-151.5,30,60,39,-147.7,30,50,40,-151,30,60,41,-211.6,40,100,43,-213.7,40,100,44,-166,40,50,45,-179,40,100];
const R5_ba4=[13,-223,60,100,16,-189,70,100,18,-138,30,90,20,-146,40,160,22,-151,30,160,23,-155,30,70,24,-114,20,30,25,-99,12,25,26,-126.5,25,30,27,-179.7,40,90,29,-168.6,40,60,30,-160,30,70,31,-135,30,50,32,-170,40,60,35,-164.5,55,100,36,-130.8,30,50,37,-141,25,70,41,-151.5,30,50,42,-183,40,90,44,-136,30,100,45,-208.7,40,100,48,-172,30,100];
const R5_ba5=[18,-120,40,100,19,-25.6,10,25,20,-115.7,30,90,21,-17.4,5,5,22,-22.7,8,5,23,-21.8,5,3,24,-21,3,3,25,-22.7,3,3,26,-16.9,3,3,27,-12.5,3,3,28,-12.5,3,3,29,-11,3,3,30,-14.5,3,3,31,-12,3,3,32,-9.6,3,3,33,-9.6,3,3,34,-11.6,3,3,35,-18,3,3,36,-14.5,3,3,37,-12,3,3,38,-14,3,3,39,-25,3,3,40,-17.7,3,3,41,-25,3,5,42,-33.7,5,5,43,-45,5,5,44,-39.5,5,5,45,-60.5,5,8,46,-72,10,15,47,-63.4,10,15,48,-66,8,15,49,-85,10,15];
const R5_ba12=[];
const R5_ba275=[28,-206.4,40,100,32,-200,70,100,33,-179.7,55,90,34,-185,60,100,35,-116.6,25,60,36,-138,30,50,37,-162.8,50,70,38,-161.6,50,60,39,-110.8,20,50,40,-127,30,30,41,-134,30,50,42,-166,45,70,46,-194.8,65,100,48,-203,60,100];
const R5_xbb=[43,-166,50,100,45,-139,25,100,46,-165,50,100,47,-139,30,100,48,-155,55,100,49,-200,70,100,50,-120,25,100];
const R5_others=[1,-173,30,40,5,-267,80,100,6,-278,75,100,7,-246.5,70,100,8,-202,35,100,9,-229,60,100,10,-190,35,100,11,-200.6,35,100,13,-193,30,100,14,-210,70,100,21,-94,30,60,22,-102.6,45,70,23,-118.6,50,70,24,-90,20,30,25,-83.7,20,30,26,-76.5,15,25,27,-75,15,20,28,-76.5,15,20,29,-80,15,20,30,-76.5,15,20,31,-80,15,20,32,-79,15,15,33,-78.5,15,15,34,-77,15,15,35,-65,12,15,36,-72.7,15,15,37,-78.5,10,15,38,-65,8,12,39,-50,8,8,40,-60.5,10,15,41,-46,8,10,42,-46,10,10,43,-58,12,10,44,-60.5,10,10,45,-56,10,12,46,-46,8,8,47,-67,10,10,48,-88.7,20,30,49,-83,20,30,50,-60,30,100];
const R5_alpha_fit=[30.4,-315,14,33.4,-261,12,37,-194,8,39.6,-139,5,42.3,-83.7,3,44.6,-51.7,3,47.3,-28.5,2,51.6,-6.7,2];
const R5_delta_fit=[-.3,-69,4,2,-139,3,4,-206,4,6,-258,5,7.6,-315,6];
const R5_ba1_fit=[-.3,-6,1,3,-2,.5,5,-10,.5,7,-25,1,9,-60,1,11,-104,2,13.6,-156,3,17.2,-206,5,20.4,-246.5,7,24,-293,9,25.3,-315,10];
const R5_ba2_fit=[-.3,-243,3,2,-174,3,5,-75,2,7,-31,1,9,-12.5,1,12,-4,.5,16,-2,.5,19,-12.5,1,22.2,-37,1,25.3,-69,2,28.4,-116,3,31.6,-153.5,4,36,-214.5,5,39.6,-252,6,43.2,-315,8];
const R5_ba4_fit=[11.2,-315,10,14.5,-243.6,10,18,-185.5,9,21.7,-150.6,8,24.4,-140.4,8,28,-140,8,32.9,-146,7,37.4,-156.4,7,41.9,-171,7,45,-194,8,48.2,-258,10,50.9,-315,12];
const R5_ba5_fit=[9.6,-315,4,12.7,-243.6,4,15.9,-162,3,19,-78,2,22.2,-34,1.5,24.8,-21,1,29.3,-12.5,1,34.7,-11,1,39.2,-17,1,42.3,-34,1,45,-57.6,2,47.7,-98,3,49.5,-127,4,51.6,-174,6];
const R5_ba12_fit=[];
const R5_ba275_fit=[24,-315,26,27,-258,24,29.8,-209,22,33.4,-174,18,37.4,-150.6,12,40.5,-147.7,12,44,-162,14,46.8,-203,16,49.5,-255,20,51.6,-290,25];
const R5_xbb_fit=[35.6,-315,14,38.7,-267,14,41.9,-200,12,45,-174,14,48.2,-152,18,51.6,-149,25];
const R5_others_fit=[2.6,-315,3,5.5,-243.6,3,8.7,-194,3,12.3,-165,2,15.4,-145,2,18,-124,2,21.3,-107,1.5,24.8,-99.7,1,29.3,-95,1,33.4,-86.6,1,37,-72,1,40.5,-53,1,43.7,-46,1,46.4,-49,2,49.5,-78,3,51.6,-99.7,4];
const R5_rib_ba12=[-.3,0,-400,51,0,-400];
const R5_rib_delta=[43,-315,-400,45,-258,-400,48.2,-172,-400,51,-171,-400];
const R5_rib_edge=[51,-172,-400,51.6,-172,-400];

// ---------- Region 6
const R6_alpha=[42,-89.5,15,25,43,-60,10,15,44,-40.7,10,15,45,-30,8,15,46,-19.8,5,10,47,-16,5,8,48,-15.4,5,8,49,-24,8,15,50,-16.9,15,8];
const R6_delta=[0,-101.7,15,20,1,-120,25,30,3,-161.6,20,40,5,-218,70,100,6,-242,70,100];
const R6_ba1=[0,-4.7,0,0,1,-4.7,0,0,2,-3,0,0,3,-3,0,0,4,-4,0,0,5,-6,0,0,6,-17.4,0,0,7,-25,0,0,8,-27,0,0,9,-39.5,0,0,10,-67.7,12,15,11,-95,15,20,12,-103.5,25,35];
const R6_ba2=[1,-205,30,100,2,-168,30,50,3,-154,25,50,4,-110,20,30,5,-90,12,15,6,-50,5,5,7,-34,5,5,8,-34,3,3,9,-22.7,3,3,10,-10,0,0,11,-6,0,0,12,-3.8,0,0,13,0,0,0,14,-2.3,0,12,15,-11,5,5,16,0,0,0,17,-2.3,0,0,18,-43,10,15,19,-89.5,15,70,20,-17.4,10,5,22,-47,10,10,23,-47,10,15,24,-75,15,20,27,-124,30,100,28,-170,40,100,29,-121,30,100,31,-154,30,100];
const R6_ba4=[18,-120,30,160,21,-95,5,160,23,-168,30,60,24,-135.5,20,100,25,-140,25,100,26,-93,15,40,27,-154,35,160,28,-141,30,160,29,-151.5,40,100,30,-117.7,20,60,31,-124,25,100,32,-166.6,40,160,35,-96.8,30,100,36,-164,65,160,38,-145,55,160,39,-162,60,160,41,-138,30,90,42,-174.4,50,160,43,-120.6,30,90,46,-160,30,160];
const R6_ba5=[18,-25,5,15,19,-5.8,5,8,20,-53,10,12,21,-10,10,15,22,-28.5,15,15,23,-22,10,5,24,-17.4,6,6,25,-14,6,6,26,-22.7,8,10,27,-13,8,5,28,-20,8,8,29,-11,6,6,30,-14.5,8,8,31,-11,5,5,32,-6,5,5,33,-11,5,5,34,-18,5,5,35,-8,5,5,36,-12,5,5,37,-12,5,5,38,-17.4,5,5,39,-26,5,5,40,-22,5,5,41,-37,5,5,42,-29,5,5,43,-52,10,10,44,-56,10,15,45,-45,10,15,46,-60.5,10,10,47,-67,12,10,49,-72,15,25];
const R6_ba12=[11,-190.7,15,160];
const R6_ba275=[30,-147,0,160,38,-176,45,160,40,-175.9,40,160,41,-107.8,25,60];
const R6_xbb=[44,-155.5,70,160,48,-152.9,0,160];
const R6_others=[1,-174.7,60,160,8,-190,55,100,9,-187.5,73,100,11,-220,60,100,14,-123,70,160,15,-65,50,60,17,-125,65,100,20,-182.6,70,160,22,-84,20,160,23,-138,15,160,24,-87,25,160,25,-92.4,30,60,26,-72.7,25,40,27,-77,30,60,28,-50,15,40,29,-86,30,100,30,-87,35,100,31,-83.7,35,100,32,-96,35,100,33,-65,20,60,34,-47,20,60,35,-114,60,90,36,-63,25,30,37,-63,25,30,38,-57.6,15,30,39,-34,8,10,40,-46,10,15,41,-42,8,20,42,-46.5,20,30,43,-41.6,15,20,44,-51.7,25,60,45,-84.3,30,60,46,-100,25,60,47,-98,30,60,48,-92.4,35,60,49,-60,30,100,50,-48,25,160];
const R6_alpha_fit=[29.6,-315,14,33.2,-258,14,36.8,-188,10,39.5,-139,5,42,-86.6,4,44.8,-49,3,47.5,-20,3,51.6,-5,2];
const R6_delta_fit=[-.3,-81,5,2,-150.6,4,4,-203,5,5.8,-276,6,7.2,-315,6];
const R6_ba1_fit=[-.3,-4,1,3,-2.5,.5,5,-7,.5,7,-25,1,9,-37,1,11.2,-93,2,14.3,-140,3,17.5,-185,5,20.6,-229,7,23.3,-278,9,25.6,-315,10];
const R6_ba2_fit=[-.3,-255,3,2,-186,3,4,-116,3,6,-46,2,8,-25.6,1,10,-8,1,13,-4,1,17,-8,1,20,-18,1,23.3,-49,1.5,26,-81,2,29,-133,3,32.3,-174,5,35.9,-214.5,6,39.5,-270,8,42.6,-315,9];
const R6_ba4_fit=[9.6,-315,18,13,-249,18,16.6,-186,18,19.7,-148,17,22.4,-136,16,26,-133,15,30,-139,12,34.5,-146,10,38.6,-153.5,8,42,-168,8,44.8,-203,10,47.5,-246.5,12,51.6,-315,14];
const R6_ba5_fit=[9.9,-315,6,13.5,-243.6,5,16.6,-162,4,19.7,-66,3,22.4,-31,2,26,-17,1,31.8,-11,1,38.6,-18,1,42,-31,2,45.3,-57.6,3,47.5,-98,5,49.8,-139,7,51.6,-182.6,10];
const R6_ba12_fit=[6.3,-315,0,9.9,-270,0,13.9,-249,0,16.6,-249,0,20.2,-261,0,23.3,-296,0,25.5,-315,0];
const R6_ba275_fit=[25.6,-315,32,29,-258,32,32.3,-214.5,30,36.8,-191,28,40.4,-185.5,28,43.5,-200,30,46.6,-243.6,32,49.8,-296,34,51.6,-315,35];
const R6_xbb_fit=[38.6,-315,30,41.3,-273,28,44.4,-232,25,47.5,-209,25,51.6,-204,25];
const R6_others_fit=[2.5,-315,6,5.4,-249,5,8,-185.5,4,11.2,-150.6,4,14.3,-127,4,17.5,-110,3,20.6,-95,3,24.2,-92,2,29.6,-94,3,33.2,-87,4,36.8,-72,4,40.4,-52,3,43,-43,3,45.7,-46,3,48.9,-75,4,51.6,-104,6];
const R6_rib_ba12=[2.3,-315,-400,5.1,-258,-400,8.6,-214,-400,11,-200,-318,13.6,-188,-312,16.8,-184,-318,20.3,-194,-400,24,-214,-400,28,-228,-400,32,-209,-400,36.8,-171,-400,41,-142,-400,44.4,-125,-400,47,-124,-400,50.2,-134,-400,51,-137,-400];
const R6_rib_delta=[44.4,-315,-400,46.2,-272,-400,48.9,-266,-400,51,-280,-400];
const R6_rib_edge=[51,-145,-400,51.6,-145,-400];

const panelSpecs=[
 {title:"Switzerland",pts:[CH_alpha,CH_delta,CH_ba1,CH_ba2,CH_ba4,CH_ba5,CH_ba12,CH_ba275,CH_xbb,CH_others],fit:[CH_alpha_fit,CH_delta_fit,CH_ba1_fit,CH_ba2_fit,CH_ba4_fit,CH_ba5_fit,CH_ba12_fit,CH_ba275_fit,CH_xbb_fit,CH_others_fit],rib12:CH_rib_ba12,ribD:CH_rib_delta,edge:CH_rib_edge,edgeOp:.08,col:-1,row:-1},
 {title:"Region 1",pts:[R1_alpha,R1_delta,R1_ba1,R1_ba2,R1_ba4,R1_ba5,R1_ba12,R1_ba275,R1_xbb,R1_others],fit:[R1_alpha_fit,R1_delta_fit,R1_ba1_fit,R1_ba2_fit,R1_ba4_fit,R1_ba5_fit,R1_ba12_fit,R1_ba275_fit,R1_xbb_fit,R1_others_fit],rib12:R1_rib_ba12,ribD:R1_rib_delta,edge:R1_rib_edge,edgeOp:.3,col:0,row:0},
 {title:"Region 2",pts:[R2_alpha,R2_delta,R2_ba1,R2_ba2,R2_ba4,R2_ba5,R2_ba12,R2_ba275,R2_xbb,R2_others],fit:[R2_alpha_fit,R2_delta_fit,R2_ba1_fit,R2_ba2_fit,R2_ba4_fit,R2_ba5_fit,R2_ba12_fit,R2_ba275_fit,R2_xbb_fit,R2_others_fit],rib12:R2_rib_ba12,ribD:R2_rib_delta,edge:R2_rib_edge,edgeOp:.25,col:1,row:0},
 {title:"Region 3",pts:[R3_alpha,R3_delta,R3_ba1,R3_ba2,R3_ba4,R3_ba5,R3_ba12,R3_ba275,R3_xbb,R3_others],fit:[R3_alpha_fit,R3_delta_fit,R3_ba1_fit,R3_ba2_fit,R3_ba4_fit,R3_ba5_fit,R3_ba12_fit,R3_ba275_fit,R3_xbb_fit,R3_others_fit],rib12:R3_rib_ba12,ribD:R3_rib_delta,edge:R3_rib_edge,edgeOp:.25,col:0,row:1},
 {title:"Region 4",pts:[R4_alpha,R4_delta,R4_ba1,R4_ba2,R4_ba4,R4_ba5,R4_ba12,R4_ba275,R4_xbb,R4_others],fit:[R4_alpha_fit,R4_delta_fit,R4_ba1_fit,R4_ba2_fit,R4_ba4_fit,R4_ba5_fit,R4_ba12_fit,R4_ba275_fit,R4_xbb_fit,R4_others_fit],rib12:R4_rib_ba12,ribD:R4_rib_delta,edge:R4_rib_edge,edgeOp:.3,col:1,row:1},
 {title:"Region 5",pts:[R5_alpha,R5_delta,R5_ba1,R5_ba2,R5_ba4,R5_ba5,R5_ba12,R5_ba275,R5_xbb,R5_others],fit:[R5_alpha_fit,R5_delta_fit,R5_ba1_fit,R5_ba2_fit,R5_ba4_fit,R5_ba5_fit,R5_ba12_fit,R5_ba275_fit,R5_xbb_fit,R5_others_fit],rib12:R5_rib_ba12,ribD:R5_rib_delta,edge:R5_rib_edge,edgeOp:.3,col:0,row:2},
 {title:"Region 6",pts:[R6_alpha,R6_delta,R6_ba1,R6_ba2,R6_ba4,R6_ba5,R6_ba12,R6_ba275,R6_xbb,R6_others],fit:[R6_alpha_fit,R6_delta_fit,R6_ba1_fit,R6_ba2_fit,R6_ba4_fit,R6_ba5_fit,R6_ba12_fit,R6_ba275_fit,R6_xbb_fit,R6_others_fit],rib12:R6_rib_ba12,ribD:R6_rib_delta,edge:R6_rib_edge,edgeOp:.3,col:1,row:2}
];

// ---------- drawing (all geometry in the reference's 6000x1800 units)
const svg=d3.select("#chart").append("svg").attr("width",4096).attr("height",1229)
  .attr("viewBox","0 0 6000 1800").attr("preserveAspectRatio","none");
svg.append("rect").attr("width",6000).attr("height",1800).attr("fill","#fff");
const rows=(a,n)=>d3.range(0,a.length,n).map(i=>a.slice(i,i+n));
const val=c=>Math.pow(10,c/100);
const t2d=t=>new Date(Date.UTC(2022,0,3)+t*7*864e5);
const months=d3.utcMonth.range(new Date(Date.UTC(2022,0,1)),new Date(Date.UTC(2023,0,2)));
const GRID="#EBEBEB",RIBOP=.4;

panelSpecs.forEach((p,pi)=>{
  const main=p.col<0;
  const L=main?{x0:244,x1:1899,y0:200.3,y3:1602,left:163,right:1977,top:131,bottom:1672}
    :{x0:p.col?3122:2203,x1:p.col?3938.6:3019,y0:160+542*p.row,y3:568+542*p.row,
      left:p.col?3081:2163,right:p.col?3976:3058,top:140+542*p.row,bottom:588+542*p.row};
  const x=d3.scaleUtc().domain([new Date(Date.UTC(2022,0,1)),new Date(Date.UTC(2023,0,1))]).range([L.x0,L.x1]);
  const y=d3.scaleLog().domain([1,.001]).range([L.y0,L.y3]);
  const g=svg.append("g").attr("class","panel");
  // grid
  const mids=[];
  const mm=[new Date(Date.UTC(2021,11,1)),...months,new Date(Date.UTC(2023,1,1))];
  for(let i=0;i<mm.length-1;i++)mids.push(new Date((+mm[i]+ +mm[i+1])/2));
  g.selectAll(null).data(mids).join("line").attr("x1",d=>x(d)).attr("x2",d=>x(d)).attr("y1",L.top).attr("y2",L.bottom).attr("stroke",GRID).attr("stroke-width",2.4);
  g.selectAll(null).data(months).join("line").attr("x1",d=>x(d)).attr("x2",d=>x(d)).attr("y1",L.top).attr("y2",L.bottom).attr("stroke",GRID).attr("stroke-width",4.4);
  g.selectAll(null).data([-.5,-1.5,-2.5]).join("line").attr("x1",L.left).attr("x2",L.right).attr("y1",d=>y(Math.pow(10,d))).attr("y2",d=>y(Math.pow(10,d))).attr("stroke",GRID).attr("stroke-width",2.4);
  g.selectAll(null).data(decadeTicks).join("line").attr("x1",L.left).attr("x2",L.right).attr("y1",d=>y(Math.pow(10,d))).attr("y2",d=>y(Math.pow(10,d))).attr("stroke",GRID).attr("stroke-width",4.4);
  // plot clip
  const cid="clip"+pi;
  svg.append("clipPath").attr("id",cid).append("rect").attr("x",L.left).attr("y",L.top).attr("width",L.right-L.left).attr("height",L.bottom-L.top);
  const plot=g.append("g").attr("clip-path",`url(#${cid})`);
  const curve=d3.curveCatmullRom.alpha(.5);
  const line=d3.line().x(d=>x(t2d(d[0]))).y(d=>y(val(d[1]))).curve(curve);
  const area=d3.area().x(d=>x(t2d(d[0]))).y0(d=>y(val(d[2]))).y1(d=>y(val(d[1]))).curve(curve);
  const sharp=d3.area().x(d=>x(t2d(d[0]))).y0(d=>y(val(d[2]))).y1(d=>y(val(d[1]))).curve(d3.curveLinear);
  // fitted lines
  p.fit.forEach((f,si)=>{
    if(!f.length)return;
    const r=rows(f,3);
    // Delta has a second, late-year rise: break the line where the t-gap is large
    const segs=[];let cur=[];
    r.forEach((d,i)=>{if(i&&d[0]-r[i-1][0]>15){segs.push(cur);cur=[];}cur.push(d);});segs.push(cur);
    segs.forEach(s=>{
      plot.append("path").attr("d",line(s)).attr("fill","none").attr("stroke",seriesColors[si]).attr("stroke-width",4.8);
    });
  });
  // ribbons
  p.fit.forEach((f,si)=>{
    if(!f.length)return;
    const r=rows(f,3);
    const segs=[];let cur=[];
    r.forEach((d,i)=>{if(i&&d[0]-r[i-1][0]>15){segs.push(cur);cur=[];}cur.push(d);});segs.push(cur);
    segs.forEach(s=>{
      if(!d3.max(s,d=>d[2]))return;
      plot.append("path").attr("d",area(s.map(d=>[d[0],d[1]+d[2],d[1]-d[2]]))).attr("fill",seriesColors[si]).attr("fill-opacity",RIBOP);
    });
  });
  plot.append("path").attr("d",area(rows(p.rib12,3))).attr("fill",seriesColors[6]).attr("fill-opacity",RIBOP);
  plot.append("path").attr("d",area(rows(p.ribD,3))).attr("fill",seriesColors[1]).attr("fill-opacity",RIBOP);
  // error bars, then points
  p.pts.forEach((a,si)=>{
    const r=rows(a,4);
    plot.selectAll(null).data(r.filter(d=>d[2]||d[3])).join("line")
      .attr("x1",d=>x(t2d(d[0]))).attr("x2",d=>x(t2d(d[0])))
      .attr("y1",d=>y(val(d[1]+d[2]))).attr("y2",d=>y(val(d[1]-d[3])))
      .attr("stroke",seriesColors[si]).attr("stroke-width",4.6);
  });
  p.pts.forEach((a,si)=>{
    plot.selectAll(null).data(rows(a,4)).join("circle")
      .attr("cx",d=>x(t2d(d[0]))).attr("cy",d=>y(val(d[1]))).attr("r",10.4)
      .attr("fill",seriesColors[si]);
  });
  if(main){ // dashed line of clipped lower bounds along the panel floor
    plot.append("line").attr("x1",x(t2d(0))).attr("x2",x(t2d(22.6))).attr("y1",L.bottom-1.5).attr("y2",L.bottom-1.5)
      .attr("stroke","#7E1C55").attr("stroke-width",3).attr("stroke-dasharray","38 9");
  }
  plot.append("path").attr("d",sharp(rows(p.edge,3))).attr("fill",seriesColors[9]).attr("fill-opacity",p.edgeOp);
  // title
  g.append("text").attr("x",(L.left+L.right)/2).attr("y",main?99:115+542*p.row).attr("text-anchor","middle")
    .attr("font-size",main?41.67:35.5).attr("fill","#000").text(p.title);
  // y axis (only left-most panels)
  if(main||p.col===0){
    const lab=main?142:2142;
    const tx=g.selectAll(null).data(decadeTicks).join("text").attr("x",lab).attr("y",d=>y(Math.pow(10,d))+19)
      .attr("text-anchor","end").attr("font-size",36.67).attr("fill","#4D4D4D");
    tx.append("tspan").text("10");
    tx.append("tspan").attr("font-size",25.7).attr("dy",-15).text(d=>d===0?"0":"\u2212"+(-d));
  }
  // x axis (bottom row + main)
  if(main||p.row===2){
    const ax=g.append("g").attr("transform",`translate(0,1721)`)
      .call(d3.axisBottom(x).tickValues(months).tickSize(0).tickFormat((d,i)=>monthLabels[i]));
    ax.select(".domain").remove();
    ax.selectAll("text").attr("y",0).attr("dy",0).attr("font-size",36.67).attr("font-family",null).attr("fill","#4D4D4D");
  }
});

// shared y titles
[[54,"main"],[2052.6,"facets"]].forEach(([xp])=>{
  svg.append("text").attr("transform",`translate(${xp},${xp<100?901:899}) rotate(-90)`).attr("text-anchor","middle")
    .attr("font-size",41.67).attr("fill","#000").text("Proportion of SARS-CoV-2 variants (log10-scale)");
});

// legend
const LG=svg.append("g").attr("class","legend");
LG.append("text").attr("x",4766).attr("y",544.7).attr("font-size",41.67).attr("fill","#000").text("SARS-CoV-2 variants");
seriesNames.forEach((n,i)=>{
  const yy=573+71.9*i;
  LG.append("rect").attr("x",4768).attr("y",yy).attr("width",66).attr("height",66).attr("fill",seriesColors[i]).attr("fill-opacity",RIBOP);
  LG.append("line").attr("x1",4772).attr("x2",4830).attr("y1",yy+32).attr("y2",yy+32).attr("stroke",seriesColors[i]).attr("stroke-width",4.4);
  LG.append("circle").attr("cx",4801).attr("cy",yy+32).attr("r",9.8).attr("fill",seriesColors[i]);
  LG.append("text").attr("x",4858.5).attr("y",yy+46).attr("font-size",36.67).attr("fill","#000").text(n);
});
</script></body></html>
